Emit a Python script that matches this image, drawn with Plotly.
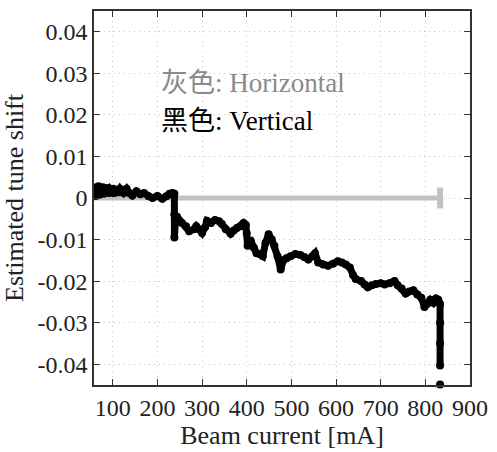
import plotly.graph_objects as go

# Black (vertical) tune shift trace
v_current = [58, 60, 62, 64, 66, 68, 70, 72, 75, 78, 80, 83, 86, 89, 92, 95, 98, 101, 104, 108,
             112, 116, 120, 124, 128, 131, 137, 144, 153, 162, 170, 180, 189, 200, 211, 220, 227, 234, 238,
             238, 238, 240, 244, 255, 264, 271, 282, 287, 293, 300, 307, 311, 320, 329, 338, 344,
             353, 364, 371, 378, 387, 393, 398, 400, 402, 404, 409, 416, 422, 429, 436, 442, 449,
             456, 462, 469, 476, 482, 489, 498, 509, 520, 529, 538, 547, 553, 560, 571, 582, 593,
             604, 613, 622, 631, 638, 644, 656, 664, 671, 680, 689, 700, 709, 720, 731, 738, 747,
             756, 764, 773, 782, 791, 798, 804, 811, 818, 824, 829, 833, 833, 833, 833]
v_shift = [0.0015, 0.0025, 0.0005, 0.002, 0.001, 0.0028, 0.0008, 0.0022, 0.0012, 0.0026, 0.001,
           0.002, 0.0014, 0.0024, 0.0012, 0.002, 0.0016, 0.0022, 0.0012, 0.0018, 0.0015, 0.0022,
           0.0016, 0.0012, 0.0018, 0.0022, 0.0012, 0.0006, 0.0016, 0.0009, 0.0012, 0.0004, 0.0,
           0.0005, -0.0002, 0.0004, 0.001, 0.0012, 0.001,
           -0.004, -0.0095, -0.006, -0.0045, -0.006, -0.0068, -0.008, -0.0075, -0.0068, -0.0075,
           -0.0084, -0.007, -0.0055, -0.006, -0.0053, -0.0056, -0.0062, -0.0075, -0.0086, -0.0078,
           -0.0072, -0.0068, -0.006, -0.0065, -0.0085, -0.0115, -0.0105, -0.0103, -0.012, -0.0133,
           -0.0135, -0.014, -0.0108, -0.0087, -0.01, -0.0115, -0.014, -0.0172, -0.015, -0.0145,
           -0.014, -0.0135, -0.0137, -0.0142, -0.0148, -0.014, -0.0133, -0.0155, -0.016, -0.0163,
           -0.0158, -0.0152, -0.0155, -0.016, -0.0167, -0.0185, -0.0195, -0.02, -0.0208, -0.0215,
           -0.021, -0.0207, -0.0205, -0.0208, -0.0205, -0.02, -0.021, -0.0218, -0.023, -0.0225,
           -0.0222, -0.0232, -0.024, -0.0262, -0.0255, -0.0245, -0.0252, -0.0242, -0.0245, -0.0255,
           -0.03, -0.035, -0.0403]
v_dot_current = [833]
v_dot_shift = [-0.0449]

# Gray (horizontal) tune shift trace
h_current = [58, 833]
h_shift = [0.0, 0.0]
h_cap_current = [833, 833]
h_cap_shift = [-0.0025, 0.0025]

x_ticks = [100, 200, 300, 400, 500, 600, 700, 800, 900]
y_ticks = [-0.04, -0.03, -0.02, -0.01, 0, 0.01, 0.02, 0.03, 0.04]
y_tick_labels = ["-0.04", "-0.03", "-0.02", "-0.01", "0", "0.01", "0.02", "0.03", "0.04"]

FONT = "Liberation Serif, Noto Sans CJK SC, serif"
GRAY = "#c2c2c2"
TEXT = "#222222"

fig = go.Figure()
fig.add_trace(go.Scatter(x=h_current, y=h_shift, mode="lines",
                         line=dict(color=GRAY, width=5), hoverinfo="skip"))
fig.add_trace(go.Scatter(x=h_cap_current, y=h_cap_shift, mode="lines",
                         line=dict(color=GRAY, width=6), hoverinfo="skip"))
fig.add_trace(go.Scatter(x=v_current, y=v_shift, mode="lines+markers",
                         line=dict(color="black", width=7),
                         marker=dict(color="black", size=8)))
fig.add_trace(go.Scatter(x=v_dot_current, y=v_dot_shift, mode="markers",
                         marker=dict(color="black", size=8), cliponaxis=False))

fig.add_annotation(x=204, y=0.0276, xref="x", yref="y", xanchor="left", yanchor="middle",
                   text="灰色: Horizontal", showarrow=False,
                   font=dict(family=FONT, size=27, color="#8a8a8a"))
fig.add_annotation(x=204, y=0.0185, xref="x", yref="y", xanchor="left", yanchor="middle",
                   text="黑色: Vertical", showarrow=False,
                   font=dict(family=FONT, size=27, color="black"))

axis_common = dict(showline=True, linecolor="#333333", linewidth=1.5, mirror="ticks",
                   ticks="inside", ticklen=6, tickcolor="#333333", tickwidth=1.2,
                   showgrid=True, gridcolor="#c8c8c8", gridwidth=1, griddash="1px,4px",
                   zeroline=False, tickfont=dict(family=FONT, size=24, color=TEXT))

fig.update_xaxes(range=[58, 900], tickvals=x_ticks,
                 title=dict(text="Beam current [mA]", font=dict(family=FONT, size=26, color=TEXT),
                            standoff=4),
                 **axis_common)
fig.update_yaxes(range=[-0.045, 0.045], tickvals=y_ticks, ticktext=y_tick_labels,
                 title=dict(text="Estimated tune shift", font=dict(family=FONT, size=26, color=TEXT),
                            standoff=6),
                 **axis_common)

fig.update_layout(width=497, height=452, margin=dict(l=94, r=25, t=9, b=67),
                  paper_bgcolor="white", plot_bgcolor="white", showlegend=False)

fig.write_html("out.html")
